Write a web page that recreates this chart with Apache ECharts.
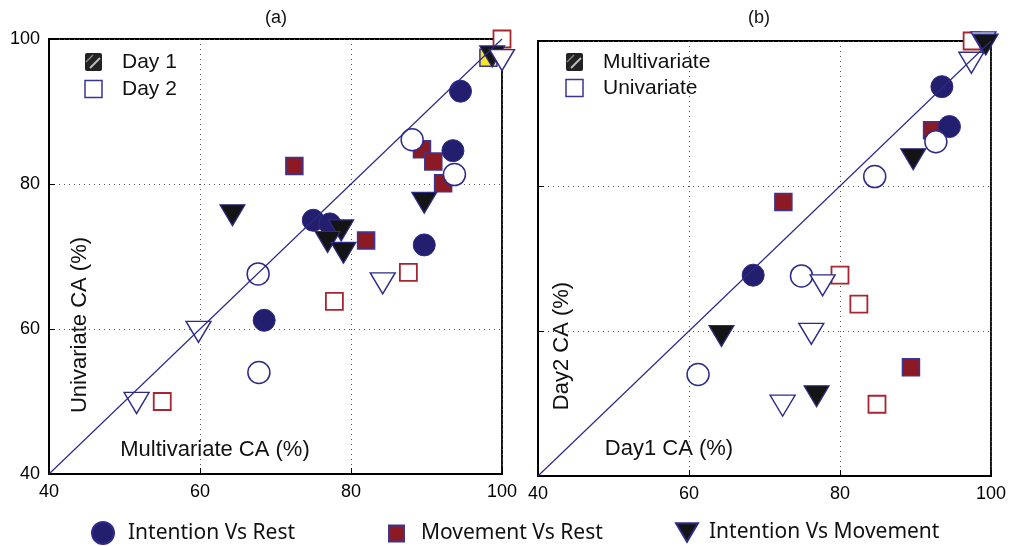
<!DOCTYPE html>
<html><head><meta charset="utf-8">
<script src="https://cdn.jsdelivr.net/npm/echarts/dist/echarts.min.js"></script>
<style>html,body{margin:0;padding:0;background:#fff}#c{width:1009px;height:546px}</style>
</head><body><div id="c"></div><script>
// ---- data ----
const axisMin = 40, axisMax = 100, axisStep = 20;
const panelTitles = ['(a)', '(b)'];
const xNames = ['Multivariate CA (%)', 'Day1 CA (%)'];
const yNames = ['Univariate CA (%)', 'Day2 CA (%)'];
const legendNamesA = ['Day 1', 'Day 2'];
const legendNamesB = ['Multivariate', 'Univariate'];
const groupNames = ['Intention Vs Rest', 'Movement Vs Rest', 'Intention Vs Movement'];
const diagonal = [[40, 40], [100, 100]];

// panel (a): x = multivariate CA, y = univariate CA
const aIntRestDay1 = [[94.5, 92.8], [93.5, 84.6], [75.0, 75.0], [77.2, 74.5], [89.7, 71.6], [68.5, 61.2]];
const aIntRestDay2 = [[88.1, 86.1], [93.7, 81.3], [67.7, 67.6], [67.8, 54.0]];
const aMovRestDay1 = [[72.5, 82.5], [89.4, 84.8], [90.9, 83.1], [92.2, 80.1], [82.0, 72.2]];
const aMovRestDay1Hl = [[98.2, 97.4]];
const aMovRestDay2 = [[100, 100], [87.6, 67.8], [77.8, 63.8], [55.0, 50.0]];
const aIntMovDay1 = [[64.3, 75.7], [89.7, 77.4], [78.7, 73.6], [76.9, 72.0], [79.0, 70.5], [98.7, 97.6]];
const aIntMovDay2 = [[100, 97.1], [59.8, 59.6], [51.6, 49.8], [84.2, 66.3]];

// panel (b): x = day1 CA, y = day2 CA
const bIntRestMulti = [[93.5, 93.7], [94.5, 88.2], [68.5, 67.7]];
const bIntRestUni = [[92.7, 86.1], [84.6, 81.3], [74.9, 67.6], [61.2, 54.0]];
const bMovRestMulti = [[92.2, 87.7], [72.5, 77.8], [89.4, 55.0]];
const bMovRestUni = [[97.5, 100], [80.0, 67.7], [82.5, 63.7], [84.9, 49.9]];
const bIntMovMulti = [[99.3, 99.5], [89.7, 83.7], [64.3, 59.3], [76.9, 51.0]];
const bIntMovUni = [[97.4, 97.0], [77.7, 66.3], [76.2, 59.6], [72.4, 49.7], [99.0, 99.8]];

// ---- styles ----
const NAVY = '#231f6e', NAVY_EDGE = '#2e2b88', RED = '#8c1a25', RED_EDGE = '#a5262f', BLACK = '#141414';
const TRI = 'path://M0,0 L20,0 L10,17 Z';
const FONT = "'Liberation Sans', Arial, Helvetica, sans-serif";
const LEG_FONT = "'Noto Sans', sans-serif";

function sc(name, data, gi, kind, filled, extra) {
  let symbol, size, style;
  if (kind === 'c') {
    symbol = 'circle'; size = 22;
    style = filled ? {color: NAVY, borderColor: NAVY_EDGE, borderWidth: 1}
                   : {color: '#fff', borderColor: NAVY_EDGE, borderWidth: 1.5};
  } else if (kind === 's') {
    symbol = 'rect'; size = 17;
    style = filled ? {color: RED, borderColor: '#3b3592', borderWidth: 1.5}
                   : {color: '#fff', borderColor: RED_EDGE, borderWidth: 1.8};
  } else {
    symbol = TRI; size = [25, 21];
    style = filled ? {color: BLACK, borderColor: '#2e2b88', borderWidth: 1.2}
                   : {color: '#fff', borderColor: NAVY_EDGE, borderWidth: 1.4};
  }
  return Object.assign({
    type: 'scatter', name, data, xAxisIndex: gi, yAxisIndex: gi,
    symbol, symbolSize: size, symbolKeepAspect: false, clip: false,
    itemStyle: Object.assign({opacity: 1}, style),
    emphasis: {disabled: true}, z: 2
  }, extra || {});
}
function diag(gi) {
  return {type: 'line', name: 'diag' + gi, data: diagonal, xAxisIndex: gi, yAxisIndex: gi,
    showSymbol: false, symbol: 'none', silent: true, z: 3,
    lineStyle: {color: '#2d2b8a', width: 1.2}};
}

const series = [
  // panel a
  sc('hl', aMovRestDay1Hl, 0, 's', true, {itemStyle: {color: '#f2e52a', borderColor: '#3b3592', borderWidth: 1.5, opacity: 1}}),
  sc(groupNames[1], aMovRestDay1, 0, 's', true),
  sc('a-mr-d2', aMovRestDay2, 0, 's', false),
  sc(groupNames[0], aIntRestDay1, 0, 'c', true),
  sc('a-ir-d2', aIntRestDay2, 0, 'c', false),
  sc(groupNames[2], aIntMovDay1, 0, 't', true),
  sc('a-im-d2', aIntMovDay2, 0, 't', false),
  diag(0),
  // panel b
  sc(groupNames[1], bMovRestMulti, 1, 's', true),
  sc('b-mr-uni', bMovRestUni, 1, 's', false),
  sc(groupNames[0], bIntRestMulti, 1, 'c', true),
  sc('b-ir-uni', bIntRestUni, 1, 'c', false),
  sc('b-im-uni', bIntMovUni, 1, 't', false),
  sc(groupNames[2], bIntMovMulti, 1, 't', true),
  diag(1)
];

function xAx(gi) {
  return {type: 'value', gridIndex: gi, min: axisMin, max: axisMax, interval: axisStep,
    axisLine: {show: true, onZero: false, lineStyle: {color: '#000', width: 1.8}},
    axisTick: {show: true, inside: true, length: 6, lineStyle: {color: '#000'}},
    axisLabel: {show: true, margin: 9, fontSize: 18, fontFamily: FONT, color: '#000'},
    splitLine: {show: true, lineStyle: {color: '#555', type: [1, 4], width: 1}}};
}
function yAx(gi, showLabel) {
  return {type: 'value', gridIndex: gi, min: axisMin, max: axisMax, interval: axisStep,
    axisLine: {show: true, onZero: false, lineStyle: {color: '#000', width: 1.8}},
    axisTick: {show: true, inside: true, length: 6, lineStyle: {color: '#000'}},
    axisLabel: {show: showLabel, margin: 9, fontSize: 18, fontFamily: FONT, color: '#000'},
    splitLine: {show: true, lineStyle: {color: '#555', type: [1, 4], width: 1}}};
}

function txt(x, y, s, st) {
  return {type: 'text', x, y, silent: true,
    style: Object.assign({text: s, fontSize: 21, fontFamily: FONT, fill: '#111', textVerticalAlign: 'middle'}, st || {})};
}
function hatch(cx, cy) {
  return {type: 'group', x: cx - 8.5, y: cy - 9, silent: true, children: [
    {type: 'rect', shape: {x: 0, y: 0, width: 17, height: 18, r: 2}, style: {fill: '#222'}},
    {type: 'line', shape: {x1: 5, y1: 15, x2: 15, y2: 5}, style: {stroke: '#bbb', lineWidth: 2}},
    {type: 'line', shape: {x1: 1, y1: 9, x2: 8, y2: 2}, style: {stroke: '#888', lineWidth: 1.5}}
  ]};
}
function openSq(cx, cy) {
  return {type: 'rect', silent: true, shape: {x: cx - 8.5, y: cy - 8.5, width: 17, height: 17},
    style: {fill: '#fff', stroke: '#3b3592', lineWidth: 1.5}};
}

const graphic = [
  txt(276, 18, panelTitles[0], {textAlign: 'center', fontSize: 18}),
  txt(759, 18, panelTitles[1], {textAlign: 'center', fontSize: 18}),
  txt(215, 450, xNames[0], {textAlign: 'center', fontSize: 22}),
  txt(669, 449, xNames[1], {textAlign: 'center', fontSize: 22}),
  {type: 'text', x: 80, y: 325, rotation: Math.PI / 2, silent: true,
    style: {text: yNames[0], fontSize: 22, fontFamily: FONT, fill: '#111', textAlign: 'center', textVerticalAlign: 'middle'}},
  {type: 'text', x: 562, y: 346, rotation: Math.PI / 2, silent: true,
    style: {text: yNames[1], fontSize: 22, fontFamily: FONT, fill: '#111', textAlign: 'center', textVerticalAlign: 'middle'}},
  hatch(93.5, 62), openSq(93.5, 89),
  txt(122, 62, legendNamesA[0]), txt(122, 89, legendNamesA[1]),
  hatch(574.5, 62), openSq(574.5, 88),
  txt(603, 62, legendNamesB[0]), txt(603, 88, legendNamesB[1])
];

function leg(name, left, top, icon, w, h, pad) {
  return {show: true, left, top, padding: 0, selectedMode: false, itemWidth: w, itemHeight: h,
    data: [{name, icon}],
    textStyle: {fontSize: 21, fontFamily: LEG_FONT, color: '#111', padding: [0, 0, 0, pad]}};
}

const option = {
  animation: false,
  backgroundColor: '#fff',
  grid: [
    {left: 49, top: 39, width: 453, height: 435, show: true, borderColor: '#000', borderWidth: 1.8, backgroundColor: 'transparent'},
    {left: 538, top: 41, width: 453, height: 435, show: true, borderColor: '#000', borderWidth: 1.8, backgroundColor: 'transparent'}
  ],
  xAxis: [xAx(0), xAx(1)],
  yAxis: [yAx(0, true), yAx(1, false)],
  legend: [
    leg(groupNames[0], 91, 521, 'circle', 22, 22, 9),
    leg(groupNames[1], 388, 523, 'rect', 15, 16, 12),
    leg(groupNames[2], 675, 522, TRI, 22, 20, 6)
  ],
  graphic,
  series
};
const chart = echarts.init(document.getElementById('c'), null, {renderer: 'canvas'});
chart.setOption(option);
</script></body></html>
